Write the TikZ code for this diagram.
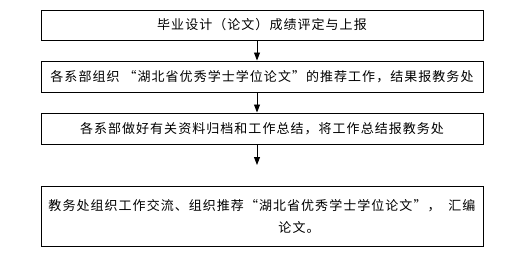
\documentclass[tikz,border=0pt]{standalone}
\usepackage{fontspec}
\newfontfamily\cjk[LetterSpace=8]{Noto Sans CJK SC}
\usetikzlibrary{arrows.meta}
\begin{document}
\begin{tikzpicture}[x=1pt,y=-1pt,
  box/.style={draw=black,line width=1pt,minimum width=442pt,inner sep=0pt,font=\cjk\fontsize{13}{22}\selectfont},
  arr/.style={draw=black,line width=0.9pt,-{Triangle[width=6pt,length=8pt]}}]
\useasboundingbox (0,0) rectangle (525,260);
\node[box,minimum height=30pt] (b1) at (262,25) {毕业设计（论文）成绩评定与上报};
\node[box,minimum height=31pt] (b2) at (262,76.5) {各系部组织 “湖北省优秀学士学位论文”的推荐工作，结果报教务处};
\node[box,minimum height=31pt] (b3) at (262,128.5) {各系部做好有关资料归档和工作总结，将工作总结报教务处};
\node[box,minimum height=60pt,align=left] (b4) at (262,216.5) {教务处组织工作交流、组织推荐“湖北省优秀学士学位论文”，\ \ 汇编\\\hspace*{230pt}论文。};
\coordinate (e3) at (257,165);
\draw[arr] ([xshift=-5pt]b1.south) -- ([xshift=-5pt]b2.north);
\draw[arr] ([xshift=-5pt]b2.south) -- ([xshift=-5pt]b3.north);
\draw[arr] ([xshift=-5pt]b3.south) -- (e3);
\end{tikzpicture}
\end{document}
